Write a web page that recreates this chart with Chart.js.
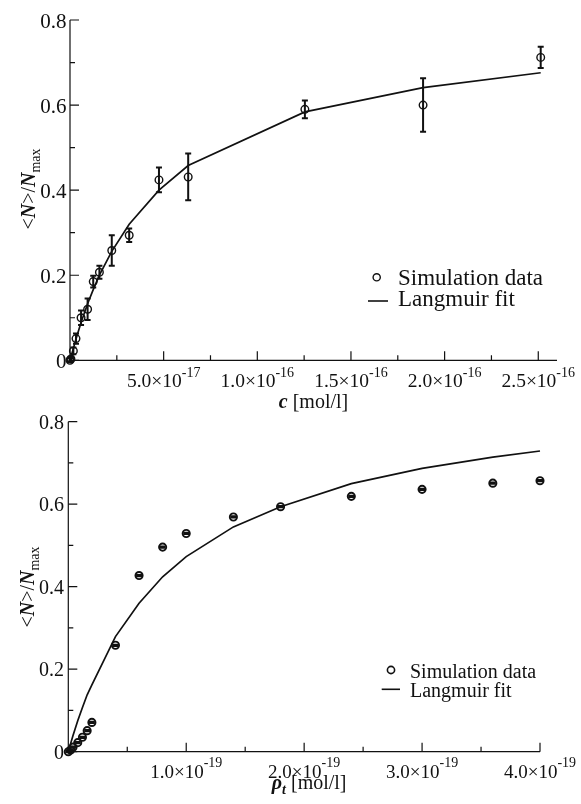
<!DOCTYPE html>
<html>
<head>
<meta charset="utf-8">
<script src="https://cdn.jsdelivr.net/npm/chart.js@4/dist/chart.umd.min.js"></script>
<style>
  html, body { margin: 0; padding: 0; background: #fff; }
  #wrap { position: relative; width: 581px; height: 804px; }
  canvas { position: absolute; left: 0; }
  #topChart { top: 0; }
  #bottomChart { top: 402px; }
</style>
</head>
<body>
<div id="wrap">
  <canvas id="topChart" width="581" height="420"></canvas>
  <canvas id="bottomChart" width="581" height="402"></canvas>
</div>
<script>
// ---- Upper panel: coverage vs. concentration c [mol/l] ----
const concC = [0, 0.5e-18, 1.8e-18, 3.2e-18, 5.9e-18, 9.4e-18, 12.4e-18, 15.7e-18,
               22.3e-18, 31.6e-18, 47.5e-18, 63.1e-18, 125.4e-18, 188.5e-18, 251.3e-18];
const simC  = [0, 0.003, 0.022, 0.051, 0.100, 0.120, 0.185, 0.207,
               0.258, 0.294, 0.424, 0.431, 0.590, 0.600, 0.712];
const errC  = [0.004, 0.005, 0.008, 0.012, 0.017, 0.025, 0.014, 0.015,
               0.036, 0.016, 0.029, 0.055, 0.021, 0.063, 0.025];
const fitC  = [0, 0.008, 0.028, 0.050, 0.089, 0.133, 0.166, 0.200,
               0.256, 0.320, 0.400, 0.458, 0.584, 0.641, 0.676];

// ---- Lower panel: coverage vs. rho_t [mol/l] ----
const rhoT  = [0, 0.02e-19, 0.04e-19, 0.08e-19, 0.12e-19, 0.16e-19, 0.2e-19, 0.4e-19, 0.6e-19,
               0.8e-19, 1.0e-19, 1.4e-19, 1.8e-19, 2.4e-19, 3.0e-19, 3.6e-19, 4.0e-19];
const simR  = [0, 0.004, 0.011, 0.022, 0.035, 0.051, 0.071, 0.258, 0.427,
               0.496, 0.529, 0.569, 0.594, 0.619, 0.636, 0.651, 0.657];
const errR  = [0.0015, 0.0015, 0.0015, 0.0015, 0.0015, 0.0015, 0.0015, 0.0015, 0.0015,
               0.0015, 0.0015, 0.0015, 0.0015, 0.0015, 0.0015, 0.0015, 0.0015];
const fitR  = [0, 0.020, 0.039, 0.075, 0.107, 0.138, 0.162, 0.279, 0.360,
               0.424, 0.473, 0.545, 0.594, 0.650, 0.687, 0.714, 0.729];

// ---- Tick positions and labels ----
const yMajor = [0, 0.2, 0.4, 0.6, 0.8];
const yLabels = ['0', '0.2', '0.4', '0.6', '0.8'];
const yMinor = [0.1, 0.3, 0.5, 0.7];

const xMajorC = [5e-17, 1e-16, 1.5e-16, 2e-16, 2.5e-16];
const xBaseC  = ['5.0×10', '1.0×10', '1.5×10', '2.0×10', '2.5×10'];
const xExpC   = ['-17', '-16', '-16', '-16', '-16'];
const xMinorC = [2.5e-17, 7.5e-17, 1.25e-16, 1.75e-16, 2.25e-16];

const xMajorR = [1e-19, 2e-19, 3e-19, 4e-19];
const xBaseR  = ['1.0×10', '2.0×10', '3.0×10', '4.0×10'];
const xExpR   = ['-19', '-19', '-19', '-19'];
const xMinorR = [0.5e-19, 1.5e-19, 2.5e-19, 3.5e-19];

const SERIF = '"Liberation Serif", "DejaVu Serif", serif';
const INK = '#111';

function font(size, style) { return (style || '') + ' ' + size + 'px ' + SERIF; }

// Draw a run of text pieces with mixed fonts; align 'center' | 'left'
function drawRuns(ctx, runs, x, y, align) {
  let total = 0;
  runs.forEach(r => { ctx.font = r.font; r.w = ctx.measureText(r.t).width; total += r.w; });
  let cx = align === 'center' ? x - total / 2 : x;
  ctx.textAlign = 'left';
  ctx.textBaseline = 'alphabetic';
  runs.forEach(r => { ctx.font = r.font; ctx.fillText(r.t, cx, y + (r.dy || 0)); cx += r.w; });
}

// Axis lines, inward ticks, tick labels, titles, error bars and key
const decor = {
  id: 'decor',
  afterDatasetsDraw(chart, args, o) {
    const ctx = chart.ctx;
    const xs = chart.scales.x, ys = chart.scales.y;
    const a = chart.chartArea;
    ctx.save();
    ctx.strokeStyle = INK;
    ctx.fillStyle = INK;

    // error bars
    const ds = chart.data.datasets[0];
    ctx.lineWidth = 2;
    ds.data.forEach((p, i) => {
      const e = o.err[i];
      const px = xs.getPixelForValue(p.x);
      const y1 = ys.getPixelForValue(p.y - e);
      const y2 = ys.getPixelForValue(p.y + e);
      ctx.beginPath();
      ctx.moveTo(px, y1); ctx.lineTo(px, y2);
      ctx.moveTo(px - 3, y1); ctx.lineTo(px + 3, y1);
      ctx.moveTo(px - 3, y2); ctx.lineTo(px + 3, y2);
      ctx.stroke();
    });

    // axis lines
    ctx.lineWidth = 1.2;
    ctx.beginPath();
    ctx.moveTo(a.left, a.top); ctx.lineTo(a.left, a.bottom); ctx.lineTo(a.right, a.bottom);
    ctx.stroke();

    // y ticks
    ctx.beginPath();
    yMajor.forEach(v => { const py = ys.getPixelForValue(v); ctx.moveTo(a.left, py); ctx.lineTo(a.left + 9, py); });
    yMinor.forEach(v => { const py = ys.getPixelForValue(v); ctx.moveTo(a.left, py); ctx.lineTo(a.left + 5, py); });
    // x ticks
    o.xMajor.forEach(v => { const px = xs.getPixelForValue(v); ctx.moveTo(px, a.bottom); ctx.lineTo(px, a.bottom - 9); });
    o.xMinor.forEach(v => { const px = xs.getPixelForValue(v); ctx.moveTo(px, a.bottom); ctx.lineTo(px, a.bottom - 5); });
    ctx.stroke();

    // y tick labels
    ctx.font = font(o.yFont);
    ctx.textAlign = 'right';
    ctx.textBaseline = 'alphabetic';
    yMajor.forEach((v, i) => {
      ctx.fillText(yLabels[i], a.left - o.yGap, ys.getPixelForValue(v) + o.yFont * 0.36);
    });

    // x tick labels with exponent
    o.xMajor.forEach((v, i) => {
      drawRuns(ctx, [
        { t: o.xBase[i], font: font(o.xFont) },
        { t: o.xExp[i], font: font(14), dy: o.expDy }
      ], xs.getPixelForValue(v), o.xLabelY, 'center');
    });

    // x title
    drawRuns(ctx, o.xTitle, (a.left + a.right) / 2 + o.xTitleDx, o.xTitleY, 'center');

    // y title (rotated)
    ctx.save();
    ctx.translate(o.yTitleX, o.yTitleY);
    ctx.rotate(-Math.PI / 2);
    drawRuns(ctx, [
      { t: '<', font: font(20) },
      { t: 'N', font: font(20, 'italic bold') },
      { t: '>/', font: font(20) },
      { t: 'N', font: font(20, 'italic bold') },
      { t: 'max', font: font(14), dy: 5 }
    ], 0, 0, 'center');
    ctx.restore();

    // key
    const k = o.key;
    ctx.lineWidth = k.markWidth;
    ctx.beginPath();
    ctx.arc(k.cx, k.cy, k.r, 0, Math.PI * 2);
    ctx.stroke();
    ctx.lineWidth = 1.6;
    ctx.beginPath();
    ctx.moveTo(k.lx1, k.ly); ctx.lineTo(k.lx2, k.ly);
    ctx.stroke();
    ctx.font = font(k.size);
    ctx.textAlign = 'left';
    ctx.fillText('Simulation data', k.tx, k.ty1);
    ctx.fillText('Langmuir fit', k.tx, k.ty2);

    ctx.restore();
  }
};

function makeChart(id, xv, sim, fit, cfg) {
  return new Chart(document.getElementById(id), {
    type: 'scatter',
    data: {
      datasets: [
        {
          label: 'Simulation data',
          data: xv.map((x, i) => ({ x, y: sim[i] })),
          showLine: false,
          pointStyle: 'circle',
          pointRadius: cfg.r,
          pointBorderWidth: cfg.markWidth,
          pointBorderColor: INK,
          pointBackgroundColor: 'rgba(0,0,0,0)',
          clip: false
        },
        {
          label: 'Langmuir fit',
          data: xv.map((x, i) => ({ x, y: fit[i] })),
          showLine: true,
          borderColor: INK,
          borderWidth: 1.7,
          pointRadius: 0,
          tension: 0,
          clip: false
        }
      ]
    },
    options: {
      responsive: false,
      animation: false,
      events: [],
      layout: { padding: cfg.pad, autoPadding: false },
      plugins: { legend: { display: false }, tooltip: { enabled: false }, decor: cfg.decor },
      scales: {
        x: { type: 'linear', min: 0, max: cfg.xMax, display: false },
        y: { type: 'linear', min: 0, max: 0.8, display: false }
      }
    },
    plugins: [decor]
  });
}

makeChart('topChart', concC, simC, fitC, {
  r: 3.8, markWidth: 1.4, xMax: 2.6e-16,
  pad: { left: 70, top: 20, right: 24, bottom: 59.7 },
  decor: {
    err: errC, xMajor: xMajorC, xMinor: xMinorC, xBase: xBaseC, xExp: xExpC,
    yFont: 21, yGap: 3.5, xFont: 19.5, xLabelY: 387, expDy: -10.5,
    xTitle: [
      { t: 'c', font: font(20, 'italic bold') },
      { t: ' [mol/l]', font: font(20) }
    ],
    xTitleDx: 0, xTitleY: 408,
    yTitleX: 35, yTitleY: 189,
    key: { cx: 376.7, cy: 277.3, r: 3.6, markWidth: 1.4, lx1: 368, lx2: 388, ly: 301,
           tx: 398, ty1: 285, ty2: 305.5, size: 23 }
  }
});

makeChart('bottomChart', rhoT, simR, fitR, {
  r: 3.6, markWidth: 1.9, xMax: 4e-19,
  pad: { left: 68.3, top: 19.7, right: 41, bottom: 52.3 },
  decor: {
    err: errR, xMajor: xMajorR, xMinor: xMinorR, xBase: xBaseR, xExp: xExpR,
    yFont: 20, yGap: 4.3, xFont: 19, xLabelY: 376, expDy: -11,
    xTitle: [
      { t: 'ρ', font: font(20, 'italic bold') },
      { t: 't', font: font(14, 'italic bold'), dy: 5 },
      { t: ' [mol/l]', font: font(20) }
    ],
    xTitleDx: 5, xTitleY: 387,
    yTitleX: 34, yTitleY: 185,
    key: { cx: 391, cy: 268, r: 3.6, markWidth: 1.6, lx1: 381.7, lx2: 400, ly: 287.3,
           tx: 410, ty1: 276, ty2: 294.7, size: 20 }
  }
});
</script>
</body>
</html>
